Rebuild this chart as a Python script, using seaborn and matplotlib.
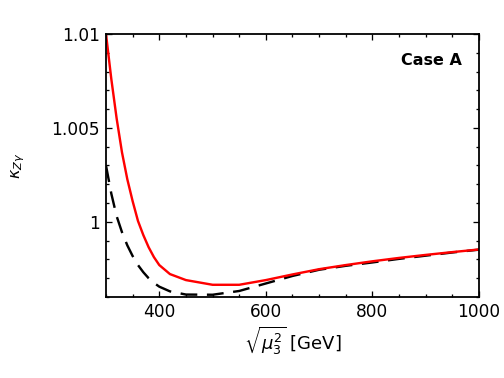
import numpy as np
import pandas as pd
import seaborn as sns
import matplotlib
matplotlib.use("Agg")
import matplotlib.pyplot as plt
from matplotlib.ticker import MultipleLocator, FuncFormatter

# values
mu_red = [300, 310, 320, 330, 340, 350, 360, 370, 380, 390, 400, 420, 450, 500,
          550, 600, 650, 700, 750, 800, 850, 900, 950, 1000]
kappa_red = [1.0100, 1.0076, 1.0055, 1.0037, 1.00227, 1.0011, 1.00005, 0.99930,
             0.99865, 0.99812, 0.99770, 0.99722, 0.99690, 0.99665, 0.99665,
             0.99690, 0.99720, 0.99748, 0.99770, 0.99790, 0.99808, 0.99824,
             0.99839, 0.99853]

mu_black = [300, 310, 320, 330, 340, 350, 360, 370, 380, 390, 400, 420, 450, 500,
            550, 600, 650, 700, 750, 800, 850, 900, 950, 1000]
kappa_black = [1.0030, 1.0015, 1.0003, 0.99945, 0.99875, 0.99818, 0.99770,
               0.99732, 0.99700, 0.99675, 0.99655, 0.99630, 0.99613, 0.99612,
               0.99632, 0.99672, 0.99712, 0.99745, 0.99766, 0.99784, 0.99803,
               0.99820, 0.99837, 0.99852]

df_red = pd.DataFrame({"mu": mu_red, "kappa": kappa_red})
df_black = pd.DataFrame({"mu": mu_black, "kappa": kappa_black})

sns.set_style("ticks")
plt.rcParams["font.family"] = ["DejaVu Sans"]
plt.rcParams["mathtext.fontset"] = "dejavusans"
plt.rcParams["text.color"] = "black"
plt.rcParams["axes.labelcolor"] = "black"

fig = plt.figure(figsize=(7, 5.25), dpi=72)
ax = fig.add_axes([0.2103, 0.2143, 0.7401, 0.6958])

sns.lineplot(data=df_black, x="mu", y="kappa", ax=ax, color="black",
             lw=2.4, estimator=None)
ax.lines[-1].set_dashes([7, 4])
sns.lineplot(data=df_red, x="mu", y="kappa", ax=ax, color="#ff0000",
             lw=2.4, estimator=None)

ax.set_xlim(300, 1000)
ax.set_ylim(0.996, 1.01)
ax.xaxis.set_major_locator(MultipleLocator(200))
ax.xaxis.set_minor_locator(MultipleLocator(50))
ax.yaxis.set_major_locator(MultipleLocator(0.005))
ax.yaxis.set_minor_locator(MultipleLocator(0.001))
ax.yaxis.set_major_formatter(FuncFormatter(lambda v, p: "{:g}".format(round(v, 4))))

ax.tick_params(which="both", direction="in", top=True, right=True,
               width=1.3, labelsize=17, colors="black")
ax.tick_params(which="major", length=6, pad=6)
ax.tick_params(which="minor", length=3)
for s in ax.spines.values():
    s.set_linewidth(1.8)
    s.set_color("black")

ax.set_xlabel(r"$\sqrt{\mu_3^2}$ [GeV]", fontsize=18, labelpad=4)
ax.set_ylabel(r"$\kappa_{Z\gamma}$", fontsize=16, labelpad=24)
ax.text(0.955, 0.9, "Case A", transform=ax.transAxes, ha="right", va="center",
        fontsize=16, fontweight="bold", color="black")

fig.savefig("out.png", dpi=72)
